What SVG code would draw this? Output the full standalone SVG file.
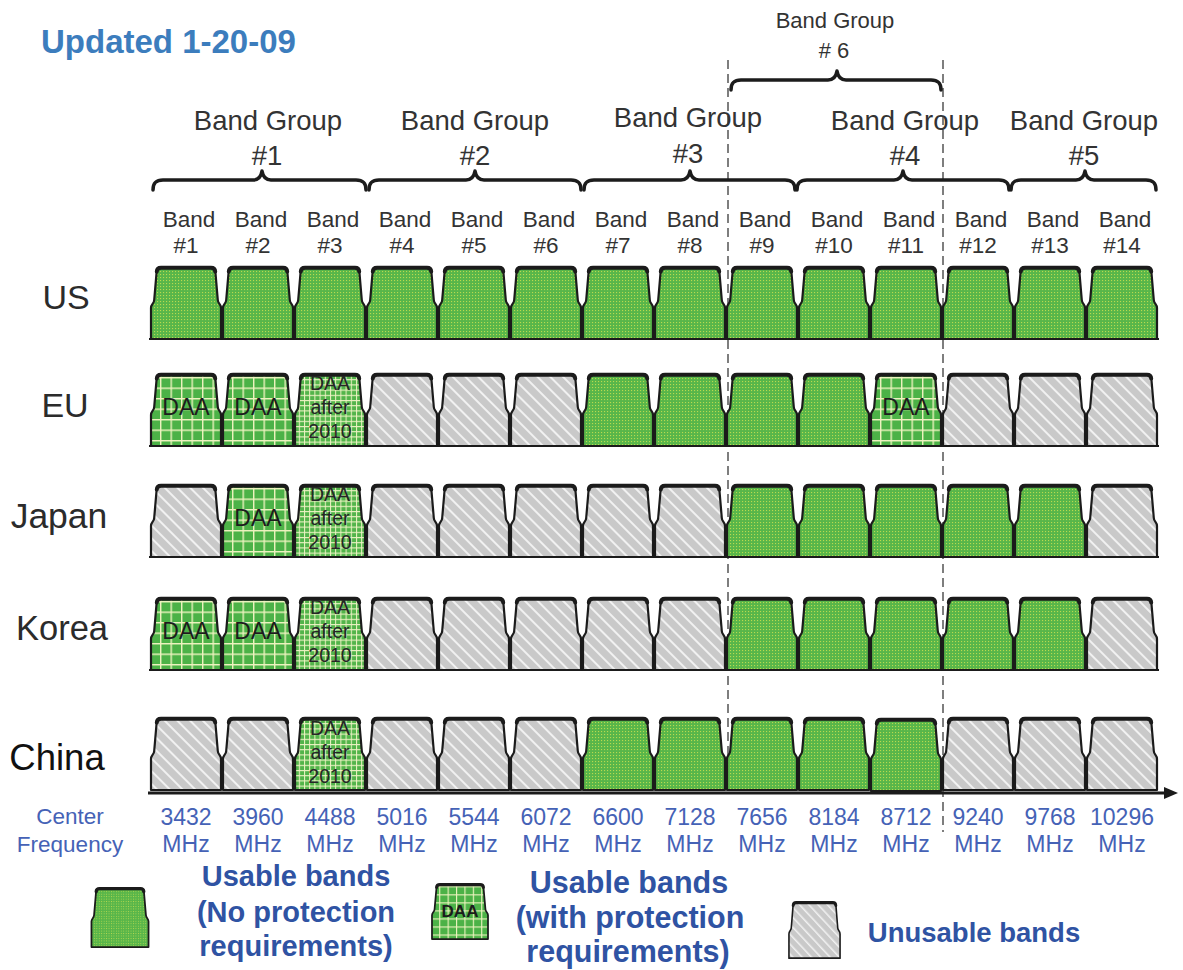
<svg xmlns="http://www.w3.org/2000/svg" width="1183" height="970" viewBox="0 0 1183 970">
<defs>
<style>
text{font-family:"Liberation Sans",Arial,sans-serif}
.hdr{font-size:27.5px;fill:#333;text-anchor:middle}
.hdr6{font-size:22px;fill:#333;text-anchor:middle}
.bl{font-size:22.5px;fill:#333;text-anchor:middle}
.cty{font-size:34px;fill:#2b2b2b;text-anchor:middle}
.frq{font-size:23px;fill:#4562b6;text-anchor:middle}
.leg{font-weight:bold;fill:#2f53a3;text-anchor:middle}
.daa{font-size:23px;fill:#1c1c1c;text-anchor:middle}
.daa2{font-size:19.5px;fill:#262626;text-anchor:middle}
.brace{fill:none;stroke:#1c1c1c;stroke-width:3.5;stroke-linecap:round;stroke-linejoin:round}
.bo{stroke:#1b1b1b;stroke-width:2.2;stroke-linejoin:round}
.bt{fill:none;stroke:#1b1b1b;stroke-width:4;stroke-linecap:round}
.g{fill:url(#dots)}
.d{fill:url(#grid)}
.f{fill:url(#fgrid)}
.x{fill:url(#hatch)}
.base{stroke:#1b1b1b;stroke-width:2}
.dash{stroke:#3a3a3a;stroke-width:1.3;stroke-dasharray:9 5;fill:none}
</style>
<pattern id="dots" width="3" height="3" patternUnits="userSpaceOnUse"><rect width="3" height="3" fill="#58b64a"/><rect x="1" y="1" width="1.1" height="1.1" fill="#b9da4e"/></pattern>
<pattern id="grid" width="10.5" height="10.5" patternUnits="userSpaceOnUse" x="-5" y="3"><rect width="10.5" height="10.5" fill="#4cb247"/><path d="M0,0.7H10.5M0.7,0V10.5" stroke="#eef3bf" stroke-width="1.4"/></pattern>
<pattern id="fgrid" width="5.2" height="5.2" patternUnits="userSpaceOnUse"><rect width="5.2" height="5.2" fill="#52b44a"/><path d="M0,0.5H5.2M0.5,0V5.2" stroke="#eef3c4" stroke-width="1"/></pattern>
<pattern id="hatch" width="9" height="9" patternUnits="userSpaceOnUse" patternTransform="rotate(-45)"><rect width="9" height="9" fill="#c9c9c9"/><rect width="2" height="9" fill="#f1f1f1"/></pattern>
<marker id="arr" markerUnits="userSpaceOnUse" markerWidth="14" markerHeight="12" viewBox="0 0 14 12" refX="2" refY="6" orient="auto"><path d="M0,0 L14,6 L0,12 Z" fill="#1b1b1b"/></marker>
<g id="bshape"><path class="bo" d="M-35,72 L-35,41 C-35,37 -32,37 -31.8,33 L-29.4,5 Q-29,0.8 -25,0.8 L25,0.8 Q29,0.8 29.4,5 L31.8,33 C32,37 35,37 35,41 L35,72 Z"/><path class="bt" d="M-29.2,4.5 Q-29,0.8 -25,0.8 L25,0.8 Q29,0.8 29.2,4.5"/></g>
</defs>
<rect width="1183" height="970" fill="#ffffff"/>

<g id="title"><text x="41" y="53" style="font-size:33px;font-weight:bold;fill:#3c7dbd">Updated 1-20-09</text></g>

<g id="connectors">
<line class="dash" x1="728" y1="60" x2="728" y2="790"/>
<line class="dash" x1="943" y1="60" x2="943" y2="832"/>
<line x1="148" y1="793" x2="1166" y2="793" stroke="#1b1b1b" stroke-width="3" marker-end="url(#arr)"/>
</g>

<g id="bg1"><text class="hdr" x="268" y="130">Band Group</text><text class="hdr" x="267" y="165">#1</text><path class="brace" d="M153,190 C153,183 156,180 163,180 L253,180 C258,180 261,177 262,171 C263,177 266,180 271,180 L356,180 C363,180 366,183 366,190"/></g>
<g id="bg2"><text class="hdr" x="475" y="130">Band Group</text><text class="hdr" x="475" y="165">#2</text><path class="brace" d="M369,190 C369,183 372,180 379,180 L466,180 C471,180 474,177 475,171 C476,177 479,180 484,180 L571,180 C578,180 581,183 581,190"/></g>
<g id="bg3"><text class="hdr" x="688" y="127">Band Group</text><text class="hdr" x="688" y="163">#3</text><path class="brace" d="M584,190 C584,183 587,180 594,180 L681,180 C686,180 689,177 690,171 C691,177 694,180 699,180 L785,180 C792,180 795,183 795,190"/></g>
<g id="bg4"><text class="hdr" x="905" y="130">Band Group</text><text class="hdr" x="905" y="165">#4</text><path class="brace" d="M797,190 C797,183 800,180 807,180 L894,180 C899,180 902,177 903,171 C904,177 907,180 912,180 L999,180 C1006,180 1009,183 1009,190"/></g>
<g id="bg5"><text class="hdr" x="1084" y="130">Band Group</text><text class="hdr" x="1084" y="165">#5</text><path class="brace" d="M1011,190 C1011,183 1014,180 1021,180 L1076,180 C1081,180 1084,177 1085,171 C1086,177 1089,180 1094,180 L1146,180 C1153,180 1156,183 1156,190"/></g>
<g id="bg6"><text class="hdr6" x="835" y="28">Band Group</text><text class="hdr6" x="834" y="58"># 6</text><path class="brace" d="M731,90 C731,83 734,80 741,80 L828,80 C833,80 836,77 837,71 C838,77 841,80 846,80 L931,80 C938,80 941,83 941,90"/></g>

<g id="band-labels">
<text class="bl" x="189" y="227">Band</text><text class="bl" x="186" y="253">#1</text>
<text class="bl" x="261" y="227">Band</text><text class="bl" x="258" y="253">#2</text>
<text class="bl" x="333" y="227">Band</text><text class="bl" x="330" y="253">#3</text>
<text class="bl" x="405" y="227">Band</text><text class="bl" x="402" y="253">#4</text>
<text class="bl" x="477" y="227">Band</text><text class="bl" x="474" y="253">#5</text>
<text class="bl" x="549" y="227">Band</text><text class="bl" x="546" y="253">#6</text>
<text class="bl" x="621" y="227">Band</text><text class="bl" x="618" y="253">#7</text>
<text class="bl" x="693" y="227">Band</text><text class="bl" x="690" y="253">#8</text>
<text class="bl" x="765" y="227">Band</text><text class="bl" x="762" y="253">#9</text>
<text class="bl" x="837" y="227">Band</text><text class="bl" x="834" y="253">#10</text>
<text class="bl" x="909" y="227">Band</text><text class="bl" x="906" y="253">#11</text>
<text class="bl" x="981" y="227">Band</text><text class="bl" x="978" y="253">#12</text>
<text class="bl" x="1053" y="227">Band</text><text class="bl" x="1050" y="253">#13</text>
<text class="bl" x="1125" y="227">Band</text><text class="bl" x="1122" y="253">#14</text>
</g>

<g id="row-us">
<text class="cty" x="66" y="309">US</text>
<line class="base" x1="149" y1="339" x2="1159" y2="339"/>
<use id="us-1" href="#bshape" x="186" y="267" class="g"/>
<use id="us-2" href="#bshape" x="258" y="267" class="g"/>
<use id="us-3" href="#bshape" x="330" y="267" class="g"/>
<use id="us-4" href="#bshape" x="402" y="267" class="g"/>
<use id="us-5" href="#bshape" x="474" y="267" class="g"/>
<use id="us-6" href="#bshape" x="546" y="267" class="g"/>
<use id="us-7" href="#bshape" x="618" y="267" class="g"/>
<use id="us-8" href="#bshape" x="690" y="267" class="g"/>
<use id="us-9" href="#bshape" x="762" y="267" class="g"/>
<use id="us-10" href="#bshape" x="834" y="267" class="g"/>
<use id="us-11" href="#bshape" x="906" y="267" class="g"/>
<use id="us-12" href="#bshape" x="978" y="267" class="g"/>
<use id="us-13" href="#bshape" x="1050" y="267" class="g"/>
<use id="us-14" href="#bshape" x="1122" y="267" class="g"/>
</g>

<g id="row-eu">
<text class="cty" x="65" y="417">EU</text>
<line class="base" x1="149" y1="446" x2="1159" y2="446"/>
<use id="eu-1" href="#bshape" x="186" y="374" class="d"/>
<use id="eu-2" href="#bshape" x="258" y="374" class="d"/>
<use id="eu-3" href="#bshape" x="330" y="374" class="f"/>
<use id="eu-4" href="#bshape" x="402" y="374" class="x"/>
<use id="eu-5" href="#bshape" x="474" y="374" class="x"/>
<use id="eu-6" href="#bshape" x="546" y="374" class="x"/>
<use id="eu-7" href="#bshape" x="618" y="374" class="g"/>
<use id="eu-8" href="#bshape" x="690" y="374" class="g"/>
<use id="eu-9" href="#bshape" x="762" y="374" class="g"/>
<use id="eu-10" href="#bshape" x="834" y="374" class="g"/>
<use id="eu-11" href="#bshape" x="906" y="374" class="d"/>
<use id="eu-12" href="#bshape" x="978" y="374" class="x"/>
<use id="eu-13" href="#bshape" x="1050" y="374" class="x"/>
<use id="eu-14" href="#bshape" x="1122" y="374" class="x"/>
<text class="daa" x="186" y="415">DAA</text>
<text class="daa" x="258" y="415">DAA</text>
<text class="daa2" x="330" y="390">DAA</text><text class="daa2" x="330" y="414">after</text><text class="daa2" x="330" y="438">2010</text>
<text class="daa" x="906" y="415">DAA</text>
</g>

<g id="row-japan">
<text class="cty" x="59" y="528" style="font-size:35.5px">Japan</text>
<line class="base" x1="149" y1="557" x2="1159" y2="557"/>
<use id="jp-1" href="#bshape" x="186" y="485" class="x"/>
<use id="jp-2" href="#bshape" x="258" y="485" class="d"/>
<use id="jp-3" href="#bshape" x="330" y="485" class="f"/>
<use id="jp-4" href="#bshape" x="402" y="485" class="x"/>
<use id="jp-5" href="#bshape" x="474" y="485" class="x"/>
<use id="jp-6" href="#bshape" x="546" y="485" class="x"/>
<use id="jp-7" href="#bshape" x="618" y="485" class="x"/>
<use id="jp-8" href="#bshape" x="690" y="485" class="x"/>
<use id="jp-9" href="#bshape" x="762" y="485" class="g"/>
<use id="jp-10" href="#bshape" x="834" y="485" class="g"/>
<use id="jp-11" href="#bshape" x="906" y="485" class="g"/>
<use id="jp-12" href="#bshape" x="978" y="485" class="g"/>
<use id="jp-13" href="#bshape" x="1050" y="485" class="g"/>
<use id="jp-14" href="#bshape" x="1122" y="485" class="x"/>
<text class="daa" x="258" y="526">DAA</text>
<text class="daa2" x="330" y="501">DAA</text><text class="daa2" x="330" y="525">after</text><text class="daa2" x="330" y="549">2010</text>
</g>

<g id="row-korea">
<text class="cty" x="62" y="640" style="font-size:34.5px">Korea</text>
<line class="base" x1="149" y1="670" x2="1159" y2="670"/>
<use id="kr-1" href="#bshape" x="186" y="598" class="d"/>
<use id="kr-2" href="#bshape" x="258" y="598" class="d"/>
<use id="kr-3" href="#bshape" x="330" y="598" class="f"/>
<use id="kr-4" href="#bshape" x="402" y="598" class="x"/>
<use id="kr-5" href="#bshape" x="474" y="598" class="x"/>
<use id="kr-6" href="#bshape" x="546" y="598" class="x"/>
<use id="kr-7" href="#bshape" x="618" y="598" class="x"/>
<use id="kr-8" href="#bshape" x="690" y="598" class="x"/>
<use id="kr-9" href="#bshape" x="762" y="598" class="g"/>
<use id="kr-10" href="#bshape" x="834" y="598" class="g"/>
<use id="kr-11" href="#bshape" x="906" y="598" class="g"/>
<use id="kr-12" href="#bshape" x="978" y="598" class="g"/>
<use id="kr-13" href="#bshape" x="1050" y="598" class="g"/>
<use id="kr-14" href="#bshape" x="1122" y="598" class="x"/>
<text class="daa" x="186" y="639">DAA</text>
<text class="daa" x="258" y="639">DAA</text>
<text class="daa2" x="330" y="614">DAA</text><text class="daa2" x="330" y="638">after</text><text class="daa2" x="330" y="662">2010</text>
</g>

<g id="row-china">
<text class="cty" x="57" y="770" style="font-size:36.5px;fill:#111">China</text>
<use id="cn-1" href="#bshape" x="186" y="718" class="x"/>
<use id="cn-2" href="#bshape" x="258" y="718" class="x"/>
<use id="cn-3" href="#bshape" x="330" y="718" class="f"/>
<use id="cn-4" href="#bshape" x="402" y="718" class="x"/>
<use id="cn-5" href="#bshape" x="474" y="718" class="x"/>
<use id="cn-6" href="#bshape" x="546" y="718" class="x"/>
<use id="cn-7" href="#bshape" x="618" y="718" class="g"/>
<use id="cn-8" href="#bshape" x="690" y="718" class="g"/>
<use id="cn-9" href="#bshape" x="762" y="718" class="g"/>
<use id="cn-10" href="#bshape" x="834" y="718" class="g"/>
<use id="cn-11" href="#bshape" x="906" y="719" class="g"/>
<use id="cn-12" href="#bshape" x="978" y="718" class="x"/>
<use id="cn-13" href="#bshape" x="1050" y="718" class="x"/>
<use id="cn-14" href="#bshape" x="1122" y="718" class="x"/>
<text class="daa2" x="330" y="735">DAA</text><text class="daa2" x="330" y="759">after</text><text class="daa2" x="330" y="783">2010</text>
</g>

<g id="frequencies">
<text class="frq" x="70" y="824" style="font-size:22.5px">Center</text>
<text class="frq" x="70" y="852" style="font-size:22.5px">Frequency</text>
<text class="frq" x="186" y="825">3432</text><text class="frq" x="186" y="852">MHz</text>
<text class="frq" x="258" y="825">3960</text><text class="frq" x="258" y="852">MHz</text>
<text class="frq" x="330" y="825">4488</text><text class="frq" x="330" y="852">MHz</text>
<text class="frq" x="402" y="825">5016</text><text class="frq" x="402" y="852">MHz</text>
<text class="frq" x="474" y="825">5544</text><text class="frq" x="474" y="852">MHz</text>
<text class="frq" x="546" y="825">6072</text><text class="frq" x="546" y="852">MHz</text>
<text class="frq" x="618" y="825">6600</text><text class="frq" x="618" y="852">MHz</text>
<text class="frq" x="690" y="825">7128</text><text class="frq" x="690" y="852">MHz</text>
<text class="frq" x="762" y="825">7656</text><text class="frq" x="762" y="852">MHz</text>
<text class="frq" x="834" y="825">8184</text><text class="frq" x="834" y="852">MHz</text>
<text class="frq" x="906" y="825">8712</text><text class="frq" x="906" y="852">MHz</text>
<text class="frq" x="978" y="825">9240</text><text class="frq" x="978" y="852">MHz</text>
<text class="frq" x="1050" y="825">9768</text><text class="frq" x="1050" y="852">MHz</text>
<text class="frq" x="1122" y="825">10296</text><text class="frq" x="1122" y="852">MHz</text>
</g>

<g id="legend-usable">
<use href="#bshape" class="g" transform="translate(120,888) scale(0.815,0.82)"/>
<text class="leg" x="296" y="886" style="font-size:29px">Usable bands</text>
<text class="leg" x="296" y="922" style="font-size:29px">(No protection</text>
<text class="leg" x="296" y="956" style="font-size:29px">requirements)</text>
</g>
<g id="legend-daa">
<use href="#bshape" class="d" transform="translate(460,884) scale(0.8,0.765)"/>
<text x="460" y="917" style="font-size:17px;font-weight:bold;fill:#1c1c1c;text-anchor:middle">DAA</text>
<text class="leg" x="629" y="893" style="font-size:30.5px">Usable bands</text>
<text class="leg" x="630" y="928" style="font-size:30.5px">(with protection</text>
<text class="leg" x="628" y="962" style="font-size:30.5px">requirements)</text>
</g>
<g id="legend-unusable">
<use href="#bshape" class="x" transform="translate(814.5,902) scale(0.73,0.78)"/>
<text class="leg" x="974" y="942" style="font-size:27.5px">Unusable bands</text>
</g>
</svg>
